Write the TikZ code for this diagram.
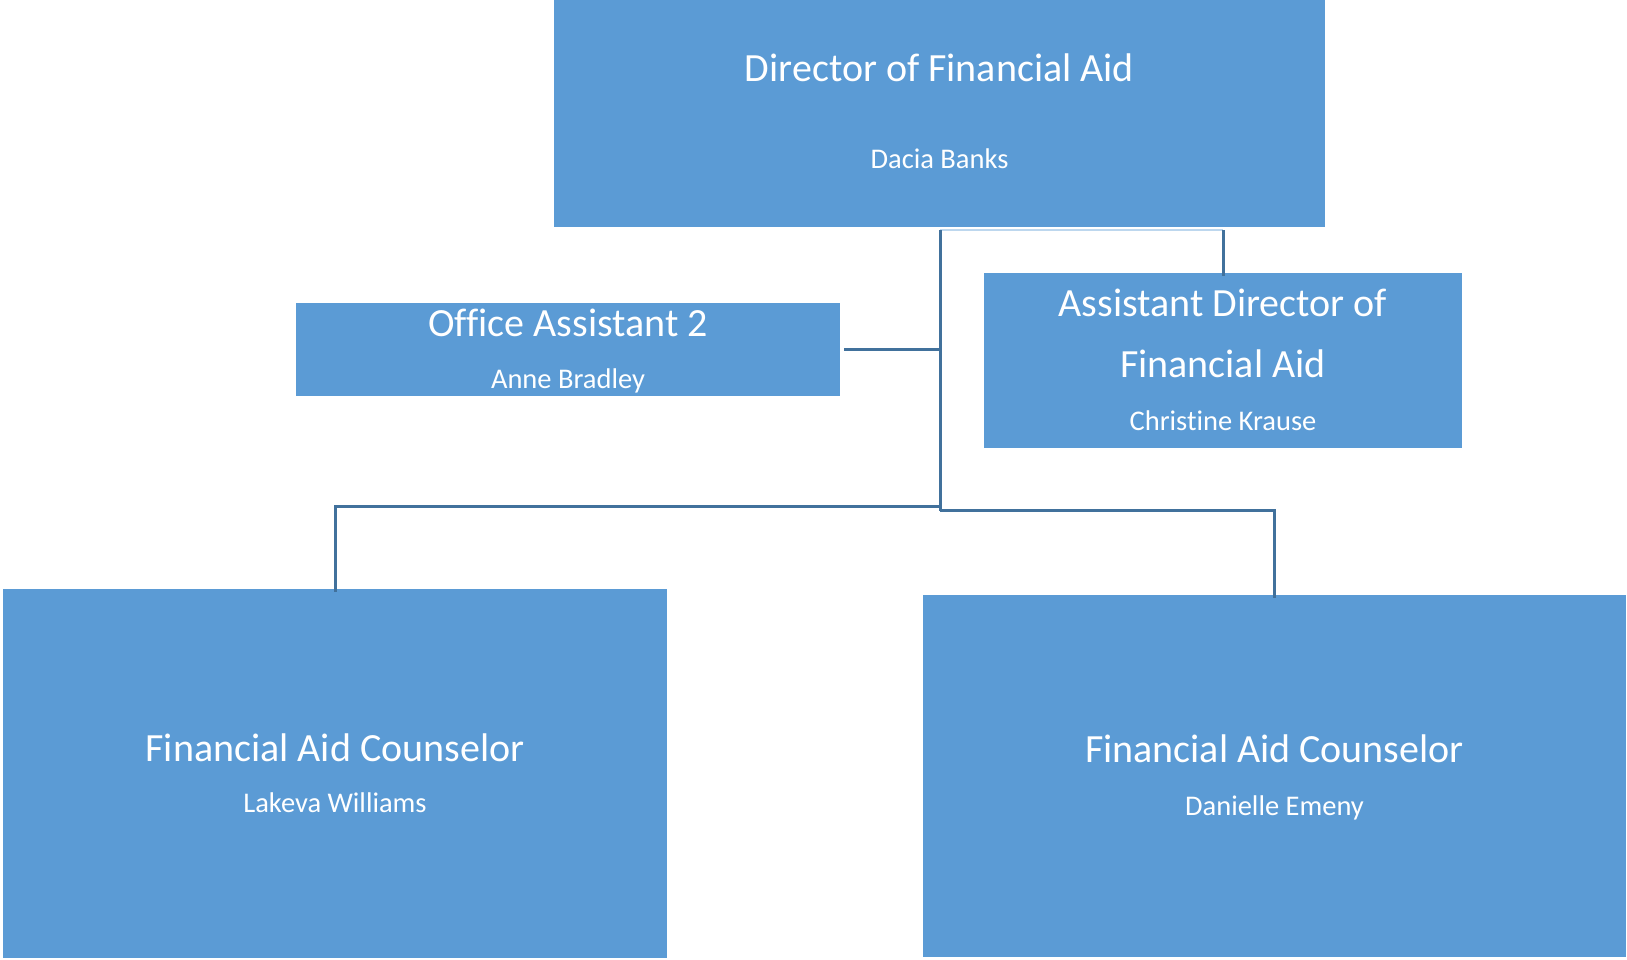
\documentclass[tikz,border=0pt]{standalone}
\usepackage{fontspec}
\setmainfont{Carlito}[Ligatures=NoCommon]
\definecolor{boxblue}{HTML}{5B9BD5}
\definecolor{linkblue}{HTML}{41719C}
\definecolor{faintblue}{HTML}{BDD7EE}
\begin{document}
\begin{tikzpicture}[x=1pt,y=-1pt,
  orgbox/.style={rectangle, fill=boxblue, draw=none, inner sep=0pt},
  ttl/.style={anchor=base, inner sep=0pt, text=white, font=\fontsize{40}{48}\selectfont},
  nm/.style={anchor=base, inner sep=0pt, text=white, font=\fontsize{28.5}{34}\selectfont},
  conn/.style={draw=linkblue, line width=3pt},
  faint/.style={draw=faintblue, line width=1.5pt}]
\useasboundingbox (0,0) rectangle (1627,960);
% boxes
\node[orgbox, minimum width=771pt, minimum height=227pt] (dir) at (939.5,113.5) {};
\node[orgbox, minimum width=544pt, minimum height=93pt] (oa) at (568,349.5) {};
\node[orgbox, minimum width=478pt, minimum height=175pt] (ad) at (1223,360.5) {};
\node[orgbox, minimum width=664pt, minimum height=369pt] (fl) at (335,773.5) {};
\node[orgbox, minimum width=703pt, minimum height=362pt] (fr) at (1274.5,776) {};
% texts
\node[ttl] (dirt) at (939.5,82) {Director of Financial Aid};
\node[nm] (dirn) at (939.5,169) {Dacia Banks};
\node[ttl] (oat) at (568,336) {Office Assistant 2};
\node[nm] (oan) at (568,388.5) {Anne Bradley};
\node[ttl] (adt1) at (1223,316.5) {Assistant Director of};
\node[ttl] (adt2) at (1223,377.5) {Financial Aid};
\node[nm] (adn) at (1223,430) {Christine Krause};
\node[ttl] (flt) at (335,761) {Financial Aid Counselor};
\node[nm] (fln) at (335,812.5) {Lakeva Williams};
\node[ttl] (frt) at (1274.5,762.5) {Financial Aid Counselor};
\node[nm] (frn) at (1274.5,815) {Danielle Emeny};
% junction coordinates
\coordinate (top) at (940,230);
\coordinate (jl) at (940,506.5);
\coordinate (jr) at (940,510.5);
\coordinate (jo) at (940,349.5);
\coordinate (ja) at (1223,230);
% connectors
\draw[faint] (top) -- (ja);
\draw[conn] (top) -- (jr);
\draw[conn] (ja) -- ([yshift=-3pt]ad.north);
\draw[conn] ([xshift=4pt]oa.east |- jo) -- (jo);
\draw[conn] (jl) -| ([yshift=-3pt]fl.north);
\draw[conn] (jr) -| ([yshift=-3pt]fr.north);
\end{tikzpicture}
\end{document}
